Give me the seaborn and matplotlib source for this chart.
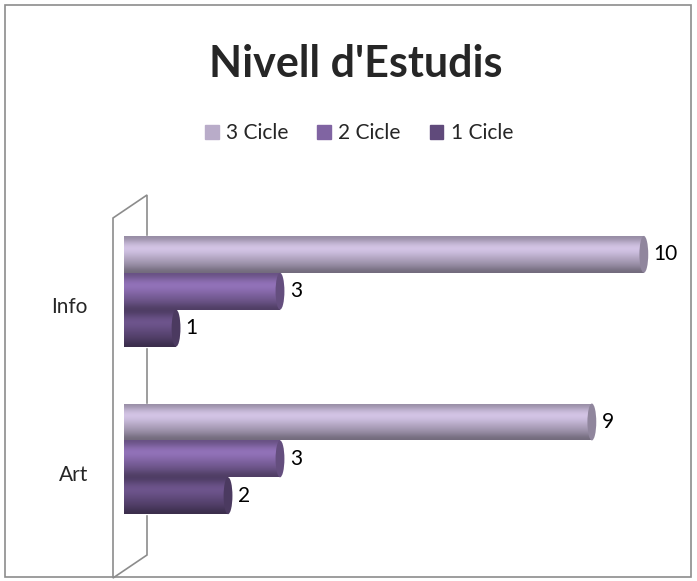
import numpy as np
import pandas as pd
import matplotlib
matplotlib.use("Agg")
import matplotlib.pyplot as plt
import matplotlib.colors as mcolors
from matplotlib.patches import Ellipse, Rectangle, Polygon
import matplotlib.transforms as mtransforms
import seaborn as sns

# ---------------------------------------------------------------------------
# Data
# ---------------------------------------------------------------------------
categories = ["Info", "Art"]
levels = ["3 Cicle", "2 Cicle", "1 Cicle"]
cicle3 = [10, 9]
cicle2 = [3, 3]
cicle1 = [1, 2]
level_colors = ["#b9acc9", "#8064a2", "#604a7b"]

df = pd.DataFrame({
    "area": categories * 3,
    "nivell": [lv for lv in levels for _ in categories],
    "valor": cicle3 + cicle2 + cicle1,
})

sns.set_style("white")
plt.rcParams["font.family"] = ["Lato", "DejaVu Sans"]

fig = plt.figure(figsize=(6.97, 5.81), dpi=100)
ax = fig.add_axes([0.178, 0.066, 0.783, 0.577])
ax.patch.set_alpha(0)

sns.barplot(data=df, y="area", x="valor", hue="nivell", order=categories,
            hue_order=levels, palette=level_colors, orient="h", width=0.66,
            saturation=1, ax=ax, legend=False)

xlim, ylim = (0, 10.5), (1.5, -0.5)

# cylinder shading: vertical gradient clipped to each bar, plus an end cap
profile = np.array([0.82, 0.95, 1.08, 1.15, 1.12, 1.05, 0.97, 0.9, 0.82, 0.72, 0.62])
for cont, col in zip(ax.containers, level_colors):
    rgb = np.array(mcolors.to_rgb(col))
    for bar in cont:
        x0, y0 = bar.get_x(), bar.get_y()
        w, h = bar.get_width(), bar.get_height()
        img = np.clip(profile[:, None, None] * rgb[None, None, :], 0, 1)
        im = ax.imshow(img, extent=(x0, x0 + w, y0 + h, y0), aspect="auto",
                       interpolation="bicubic", zorder=2)
        im.set_clip_path(bar)
        cap = Ellipse((x0 + w, y0 + h / 2), width=0.17, height=h,
                      facecolor=np.clip(rgb * 0.78, 0, 1), edgecolor="none", zorder=3)
        ax.add_patch(cap)
    ax.bar_label(cont, labels=[f"{int(b.get_width())}" for b in cont],
                 padding=7, fontsize=15, color="black")

ax.set_xlim(*xlim)
ax.set_ylim(*ylim)
ax.set_xlabel("")
ax.set_ylabel("")
ax.set_xticks([])
ax.tick_params(axis="y", length=0, pad=26, labelsize=15)
offset = mtransforms.ScaledTranslation(0, -14 / 100, fig.dpi_scale_trans)
for lab in ax.get_yticklabels():
    lab.set_transform(lab.get_transform() + offset)
for s in ax.spines.values():
    s.set_visible(False)

# back wall of the 3D chart (behind the bars)
wall = Polygon([[113 / 697, 1 - 218 / 581], [147 / 697, 1 - 195 / 581],
                [147 / 697, 1 - 555 / 581], [113 / 697, 1 - 578 / 581]],
               closed=True, transform=fig.transFigure, facecolor="none",
               edgecolor="#8c8c8c", linewidth=1.2, zorder=-1)
fig.patches.append(wall)

# legend
handles = [Rectangle((0, 0), 1, 1, color=c) for c in level_colors]
fig.legend(handles, levels, loc="center", bbox_to_anchor=(0.515, 1 - 133 / 581),
           ncol=3, frameon=False, fontsize=15, handlelength=0.65, handleheight=0.65,
           handletextpad=0.35, columnspacing=1.4)

fig.text(0.511, 1 - 64 / 581, "Nivell d'Estudis", ha="center", va="center",
         fontsize=31, fontweight="bold")

# chart border
fig.patches.append(Rectangle((5 / 697, 4 / 581), 686 / 697, 572 / 581,
                             transform=fig.transFigure, fill=False,
                             edgecolor="#8c8c8c", linewidth=1.2, zorder=-1))

fig.savefig("out.png", dpi=100)
